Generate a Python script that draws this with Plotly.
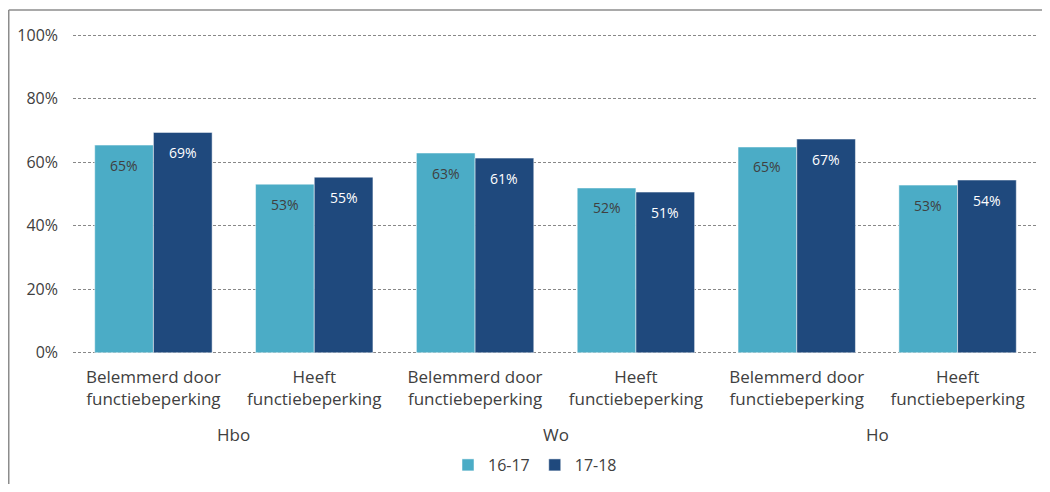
import plotly.graph_objects as go

groups = ["Hbo", "Wo", "Ho"]
subcats = ["Belemmerd door<br>functiebeperking", "Heeft<br>functiebeperking"] * 3
series_names = ["16-17", "17-18"]
vals_1617 = [65.4, 53.1, 62.9, 51.9, 64.8, 52.8]
vals_1718 = [69.4, 55.3, 61.3, 50.6, 67.3, 54.4]
labels_1617 = ["65%", "53%", "63%", "52%", "65%", "53%"]
labels_1718 = ["69%", "55%", "61%", "51%", "67%", "54%"]
yticks = [0, 20, 40, 60, 80, 100]
yticklabels = ["0%", "20%", "40%", "60%", "80%", "100%"]

FONT = "Open Sans"
TXT = "#404040"
BARGAP = 0.27
xpos = list(range(len(subcats)))

fig = go.Figure()
fig.add_trace(go.Bar(
    x=xpos, y=vals_1617, name=series_names[0],
    marker=dict(color="#4BACC6", line=dict(color="#FFFFFF", width=0.5)),
))
fig.add_trace(go.Bar(
    x=xpos, y=vals_1718, name=series_names[1],
    marker=dict(color="#1F497D", line=dict(color="#FFFFFF", width=0.5)),
))

# page has an 8px body margin; figure coordinates below are page - 8
W, H = 1034, 476
L, T = 65, 24
R = W - 1030
B = H - 348
pw, ph = W - L - R, H - T - B

def px_x(px):
    return (px - L) / pw

def px_y(py):
    return (H - B - py) / ph

annotations = []
half = (1 - BARGAP) / 4
for vals, labs, col, sign in [(vals_1617, labels_1617, TXT, -1), (vals_1718, labels_1718, "#FFFFFF", 1)]:
    for i, (v, lab) in enumerate(zip(vals, labs)):
        annotations.append(dict(
            x=xpos[i] + sign * half, xref="x", y=v, yref="y", text=lab, showarrow=False,
            xanchor="center", yanchor="middle", yshift=-20,
            font=dict(size=14, family=FONT, color=col)))
for i, g in enumerate(groups):
    annotations.append(dict(
        x=2 * i + 0.5, xref="x", y=px_y(426), yref="paper", text=g, showarrow=False,
        xanchor="center", yanchor="middle", font=dict(size=17, family=FONT, color=TXT)))

fig.update_layout(
    width=W, height=H,
    margin=dict(l=L, r=R, t=T, b=B, pad=0, autoexpand=False),
    paper_bgcolor="white", plot_bgcolor="white",
    font=dict(family=FONT, color=TXT, size=15),
    barmode="group", bargap=BARGAP, bargroupgap=0,
    showlegend=True,
    legend=dict(orientation="h", x=px_x(527), xanchor="center", y=px_y(457), yanchor="middle",
                font=dict(size=16, family=FONT, color=TXT), traceorder="normal",
                itemwidth=30),
    xaxis=dict(range=[-0.5, len(subcats) - 0.5], tickvals=xpos, ticktext=subcats,
               showline=False, ticks="", automargin=False, ticklabelstandoff=9,
               tickfont=dict(size=17, family=FONT, color=TXT), showgrid=False, zeroline=False),
    yaxis=dict(range=[-1, 101], tickvals=yticks, ticktext=yticklabels, showline=False,
               showgrid=True, gridcolor="#888888", griddash="3px,2px", gridwidth=1,
               zeroline=False, ticks="", automargin=False, ticklabelstandoff=14,
               tickfont=dict(size=16, family=FONT, color=TXT)),
    annotations=annotations,
    shapes=[
        dict(type="line", xref="paper", yref="paper", x0=px_x(0.75), x1=px_x(0.75),
             y0=px_y(2), y1=px_y(H + 5), line=dict(color="#8C8C8C", width=1.5)),
        dict(type="line", xref="paper", yref="paper", x0=px_x(0.75), x1=px_x(W + 5),
             y0=px_y(2), y1=px_y(2), line=dict(color="#8C8C8C", width=1.5)),
    ],
)

fig.write_html("out.html")
